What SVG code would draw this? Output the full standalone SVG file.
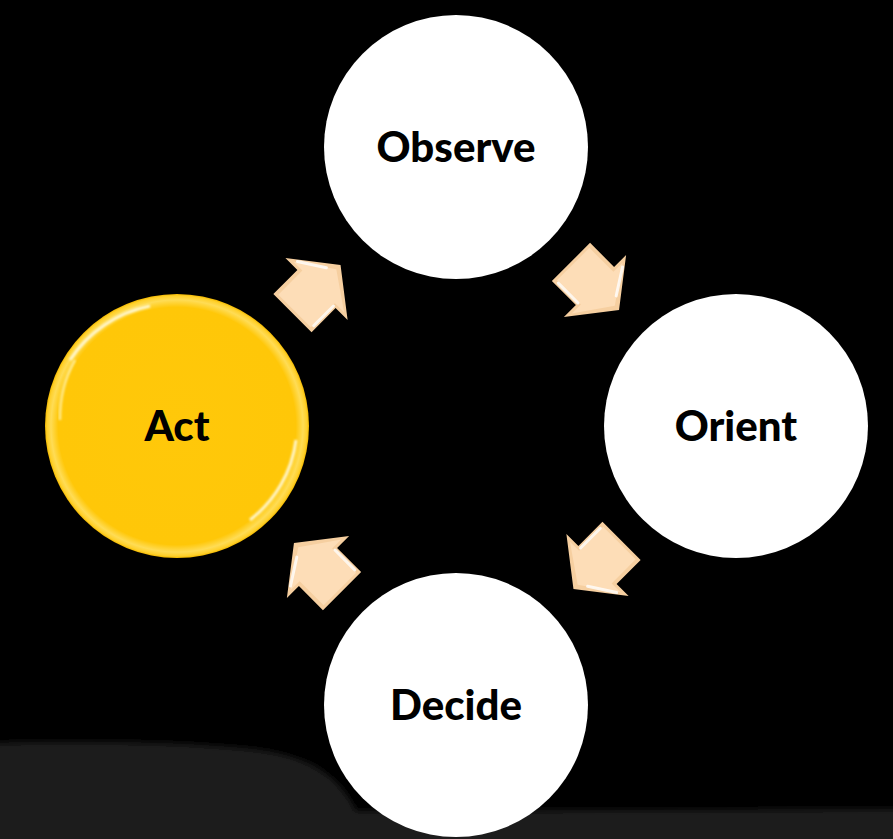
<svg xmlns="http://www.w3.org/2000/svg" width="893" height="839" viewBox="0 0 893 839">
  <defs>
    <style>
      .label { font-family: "Lato", "Open Sans", "Liberation Sans", sans-serif; font-weight: 900; font-size: 42px; fill: #000; text-anchor: middle; }
      .plain { fill: #ffffff; }
      .arrow-base { fill: #F6CFA0; }
      .arrow-face { fill: #FDDDB7; }
      .glint { fill: none; stroke: #ffffff; stroke-width: 3; stroke-linecap: round; opacity: 0.8; }
    </style>
    <radialGradient id="goldBody" cx="50%" cy="50%" r="50%">
      <stop offset="0" stop-color="#FFC80A"/>
      <stop offset="0.9" stop-color="#FFC708"/>
      <stop offset="0.955" stop-color="#FFDC55"/>
      <stop offset="0.985" stop-color="#FFD02A"/>
      <stop offset="1" stop-color="#F2B800"/>
    </radialGradient>
    <filter id="soft" x="-10%" y="-10%" width="120%" height="120%">
      <feGaussianBlur stdDeviation="1.2"/>
    </filter>
    <filter id="haze" x="-5%" y="-20%" width="110%" height="140%">
      <feGaussianBlur stdDeviation="3"/>
    </filter>
    <!-- block arrow pointing +x, origin at the head's base -->
    <g id="blockArrow">
      <polygon class="arrow-base" points="-34,-27 0,-27 0,-44 34,0 0,44 0,27 -34,27"/>
      <polygon class="arrow-face" points="-31,-23 3,-23 3,-36 28,0 3,36 3,23 -31,23"/>
      <path class="glint" d="M -28,24 L 0,24"/>
      <path class="glint" d="M 6,-33 L 22,-8"/>
    </g>
  </defs>

  <!-- backdrop -->
  <rect x="0" y="0" width="893" height="839" fill="#000"/>
  <path d="M-10,743 C80,740 200,742 260,750 C300,756 330,768 350,800 L356,811 L903,809 L903,850 L-10,850 Z" fill="#1f1f1f" filter="url(#haze)"/>

  <!-- connectors -->
  <g id="connectors">
    <use href="#blockArrow" transform="translate(316.5,289) rotate(-45)"/>
    <use href="#blockArrow" transform="translate(595,286) rotate(45)"/>
    <use href="#blockArrow" transform="translate(597.5,565) rotate(135)"/>
    <use href="#blockArrow" transform="translate(318,567) rotate(-135)"/>
  </g>

  <g id="observe">
    <circle class="plain" cx="456" cy="147" r="132"/>
    <text class="label" x="456" y="162">Observe</text>
  </g>

  <g id="orient">
    <circle class="plain" cx="736" cy="426" r="132"/>
    <text class="label" x="736" y="441">Orient</text>
  </g>

  <g id="decide">
    <circle class="plain" cx="456" cy="705" r="132"/>
    <text class="label" x="456" y="720">Decide</text>
  </g>

  <g id="act">
    <circle cx="177" cy="426" r="132" fill="url(#goldBody)"/>
    <path d="M 70,360 A 124,124 0 0 1 150,306" fill="none" stroke="#fffbe0" stroke-width="3" filter="url(#soft)" opacity="0.9"/>
    <path d="M 60,420 A 118,118 0 0 1 75,360" fill="none" stroke="#fff3b0" stroke-width="2.5" filter="url(#soft)" opacity="0.8"/>
    <path d="M 296,440 A 120,120 0 0 1 250,520" fill="none" stroke="#fffbe0" stroke-width="3" filter="url(#soft)" opacity="0.9"/>
    <text class="label" x="177" y="441">Act</text>
  </g>
</svg>
